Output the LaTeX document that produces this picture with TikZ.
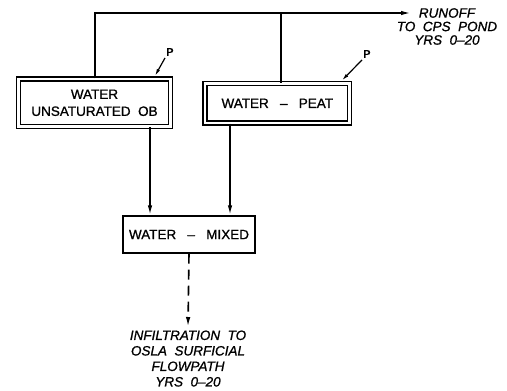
\documentclass[tikz,border=0pt]{standalone}
\usepackage{fontspec}
\setmainfont{Liberation Sans}[FakeBold=1]
\usetikzlibrary{arrows.meta}
\begin{document}
\begin{tikzpicture}[x=1pt,y=-1pt,
  flow/.style={line width=1.6pt},
  arr/.style={-{Latex[length=10pt,width=4.5pt]}},
  parr/.style={-{Latex[length=7pt,width=3.5pt]}},
  dbox/.style={draw, line width=1.2pt, double, double distance=2.8pt, inner sep=0pt, align=center},
  sbox/.style={draw, line width=1.4pt, inner sep=0pt, align=center},
  boxtxt/.style={font=\fontsize{13.5}{17}\selectfont},
  lbl/.style={font=\fontsize{13.5}{13.5}\selectfont\itshape, align=center},
  plbl/.style={font=\fontsize{11}{10}\selectfont, inner sep=0pt}
]
\useasboundingbox (0,0) rectangle (507,391);
% boxes
\node[dbox, boxtxt, minimum width=152pt, minimum height=47.5pt] (lb) at (94.5,102.8) {WATER\\UNSATURATED\ \ OB};
\node[dbox, boxtxt, minimum width=144.5pt, minimum height=39.5pt] (rb) at (277.3,103.3) {WATER\ \ \ --\ \ \ PEAT};
\node[sbox, boxtxt, minimum width=132pt, minimum height=37pt] (mb) at (189,234.5) {WATER\ \ \ --\ \ \ MIXED};
% labels
\node[lbl] (run) at (447,26.5) {RUNOFF\\TO\ \ CPS\ \ POND\\YRS\ \ 0--20};
\node[lbl, font=\fontsize{13.5}{15.5}\selectfont\itshape, anchor=north] (inf) at (188,327) {INFILTRATION\ \ TO\\OSLA\ \ SURFICIAL\\FLOWPATH\\YRS\ \ 0--20};
\node[plbl] (p1) at (170,52) {P};
\node[plbl] (p2) at (367,54) {P};
% coordinates
\coordinate (tl) at (95,13);
\coordinate (jr) at (281,13);
\coordinate (tip) at (411,13);
\coordinate (lx) at (150,0);
\coordinate (rx) at (230,0);
\coordinate (pl) at (155,0);
\coordinate (pr) at (342,0);
% connectors
\draw[flow, arr] (lb.north -| tl) |- (tip);
\draw[flow] (rb.north -| jr) -- (jr);
\draw[flow, arr] (lb.south -| lx) -- (mb.north -| lx);
\draw[flow, arr] (rb.south -| rx) -- (mb.north -| rx);
\draw[flow, arr, dash pattern=on 10pt off 6pt] (mb.south) -- (inf.north);
\draw[line width=1.2pt, parr] ([xshift=-5pt,yshift=-2pt]p1.south) -- ([yshift=2.6pt]lb.north -| pl);
\draw[line width=1.2pt, parr] ([xshift=-5pt,yshift=-2pt]p2.south) -- ([yshift=2.6pt]rb.north -| pr);
\end{tikzpicture}
\end{document}
